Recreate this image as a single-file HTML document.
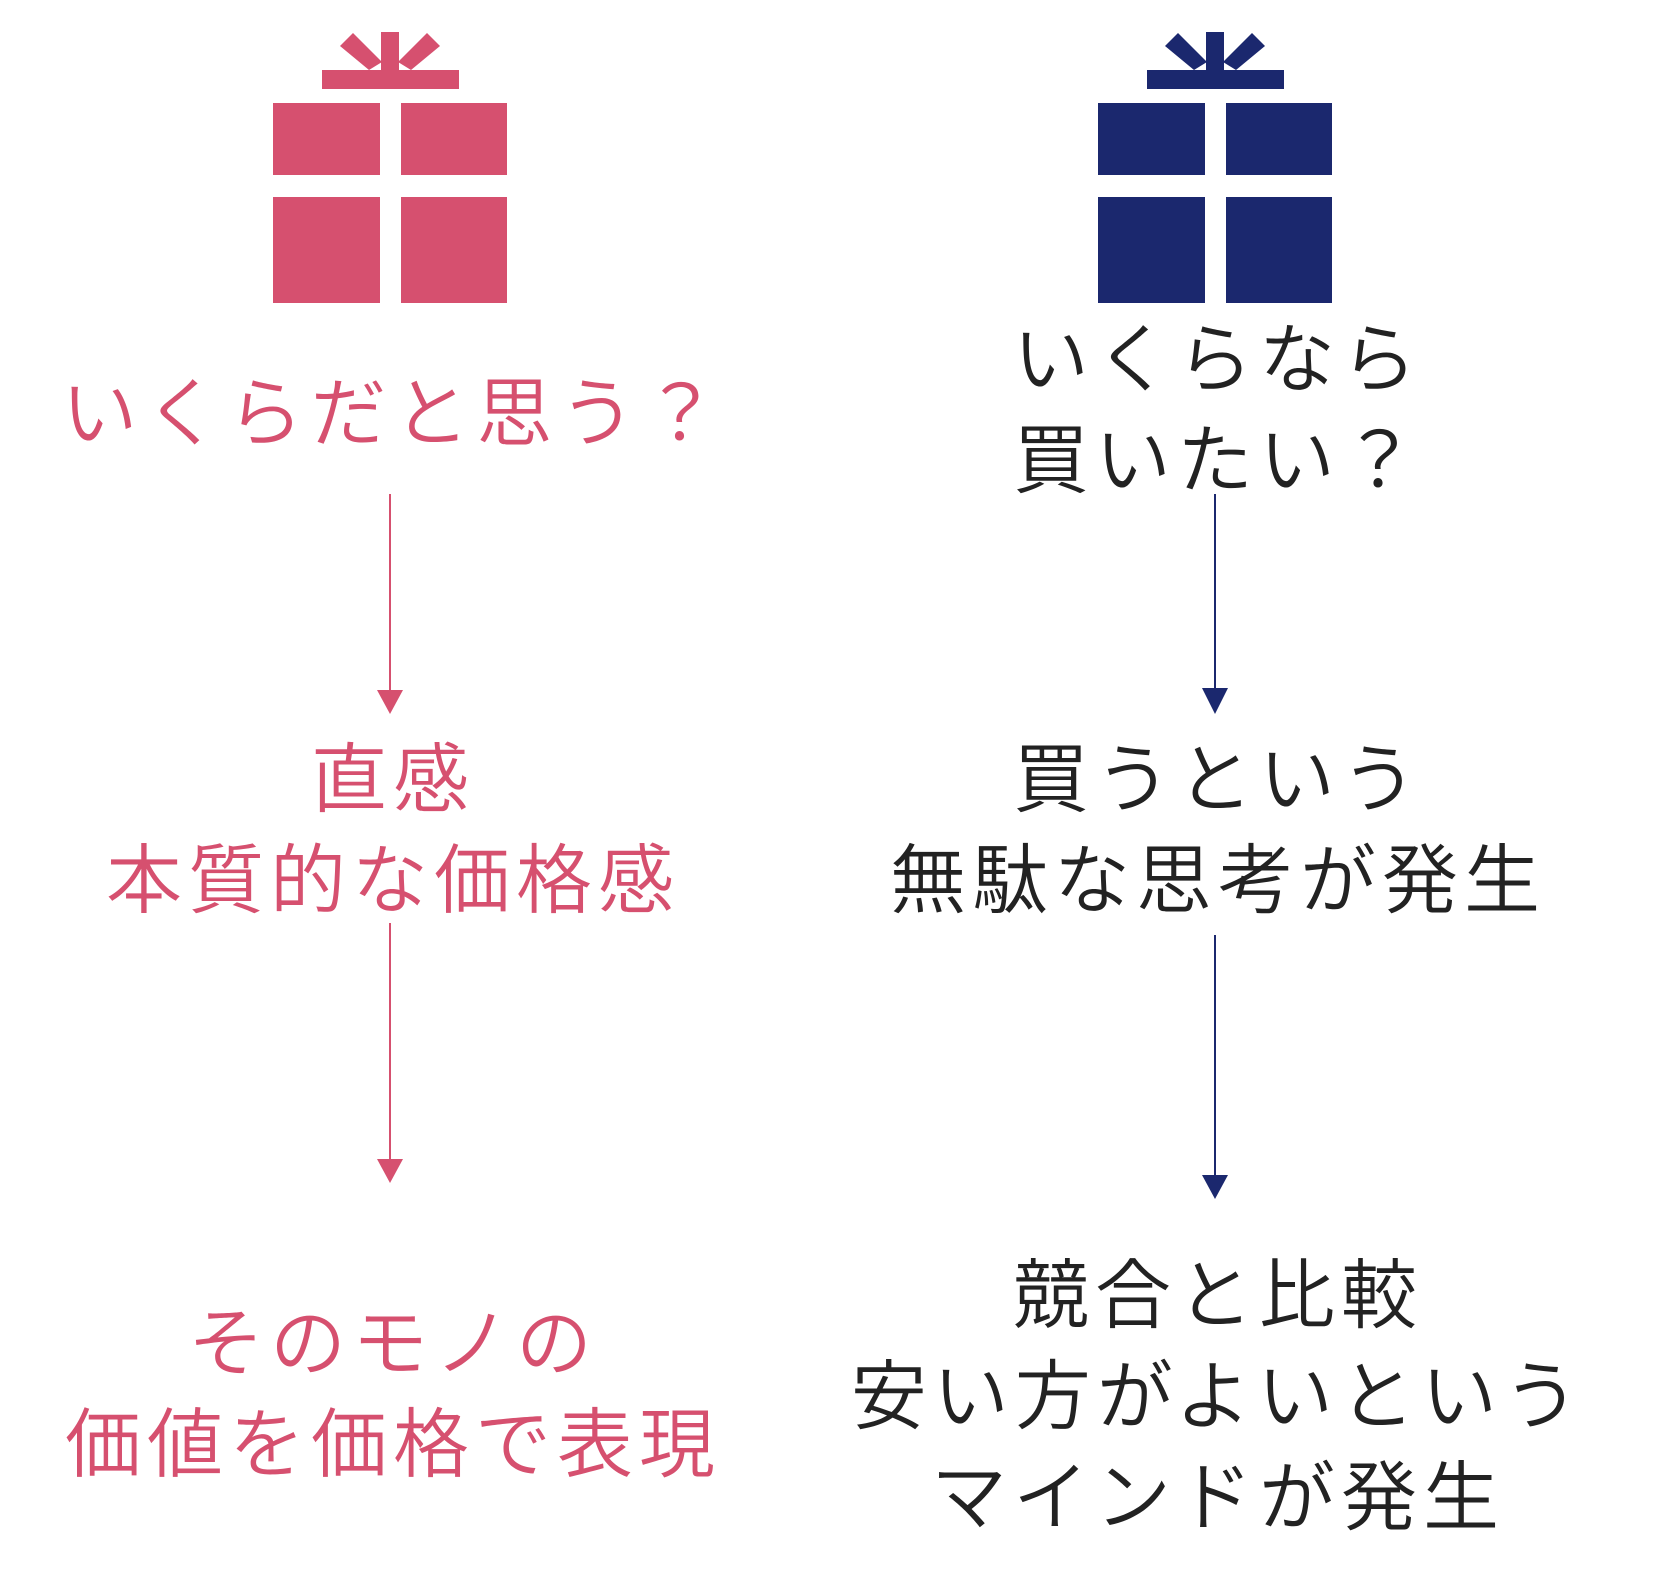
<!DOCTYPE html>
<html><head><meta charset="utf-8"><style>
html,body{margin:0;padding:0;background:#fff}
body{width:1658px;height:1592px;position:relative;overflow:hidden;font-family:"Liberation Sans","Noto Sans CJK JP",sans-serif}
.t{position:absolute;width:900px;text-align:center;font-size:76px;font-weight:350;line-height:101px;letter-spacing:6px;padding-left:6px;box-sizing:border-box;white-space:nowrap}
.L{left:-60px;color:#d6506f}
.R{left:765px;color:#222}
</style></head><body>
<svg width="1658" height="1592" style="position:absolute;left:0;top:0">
<g fill="#d6506f" transform="translate(-2,0)">
<rect x="275" y="103" width="107" height="72"/><rect x="403" y="103" width="106" height="72"/>
<rect x="275" y="197" width="107" height="106"/><rect x="403" y="197" width="106" height="106"/>
<rect x="324" y="70" width="137" height="19"/>
<rect x="383" y="32" width="18" height="38"/>
<polygon points="342,46 355,33 384,62 371,70"/><polygon points="442,46 429,33 400,62 413,70"/>
<rect x="391" y="494" width="2" height="198"/><polygon points="379,690 405,690 392,714"/>
<rect x="391" y="923" width="2" height="238"/><polygon points="379,1159 405,1159 392,1183"/>
</g>
<g fill="#1b286e" transform="translate(-6,0)">
<rect x="1104" y="103" width="107" height="72"/><rect x="1232" y="103" width="106" height="72"/>
<rect x="1104" y="197" width="107" height="106"/><rect x="1232" y="197" width="106" height="106"/>
<rect x="1153" y="70" width="137" height="19"/>
<rect x="1212" y="32" width="18" height="38"/>
<polygon points="1171,46 1184,33 1213,62 1200,70"/><polygon points="1271,46 1258,33 1229,62 1242,70"/>
<rect x="1220" y="494" width="2" height="196"/><polygon points="1208,688 1234,688 1221,714"/>
<rect x="1220" y="935" width="2" height="242"/><polygon points="1208,1175 1234,1175 1221,1199"/>
</g>
</svg>
<div class="t L" style="top:364px;letter-spacing:7px;padding-left:7px">いくらだと思う？</div>
<div class="t L" style="top:730px">直感<br>本質的な価格感</div>
<div class="t L" style="top:1294px">そのモノの<br>価値を価格で表現</div>
<div class="t R" style="top:310px">いくらなら<br>買いたい？</div>
<div class="t R" style="top:730px">買うという<br>無駄な思考が発生</div>
<div class="t R" style="top:1246px">競合と比較<br>安い方がよいという<br>マインドが発生</div>
</body></html>
